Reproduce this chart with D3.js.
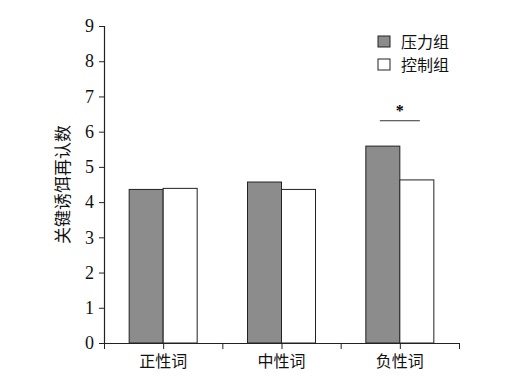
<!DOCTYPE html>
<html>
<head>
<meta charset="utf-8">
<script src="https://cdn.jsdelivr.net/npm/d3@7"></script>
<style>
  body { margin: 0; background: #fff; }
  svg { display: block; }
</style>
</head>
<body>
<svg id="chart"></svg>
<script>
// Key lure recognition counts by word type, stress vs control group
const categories = ['正性词', '中性词', '负性词'];
const seriesNames = ['压力组', '控制组'];
const stressValues = [4.36, 4.57, 5.59];
const controlValues = [4.39, 4.36, 4.63];
const yTicks = [0, 1, 2, 3, 4, 5, 6, 7, 8, 9];
const seriesColors = ['#8c8c8c', '#ffffff'];

const W = 518, H = 386;
const MARGIN = { top: 26, right: 59, bottom: 43, left: 104 };
const IW = W - MARGIN.left - MARGIN.right;
const IH = H - MARGIN.top - MARGIN.bottom;
const NUM_FONT = '"Liberation Serif", "Times New Roman", serif';
const CJK_FONT = '"Noto Sans CJK SC", sans-serif';

const svg = d3.select('#chart').attr('width', W).attr('height', H);
const g = svg.append('g').attr('transform', `translate(${MARGIN.left},${MARGIN.top})`);

const x = d3.scaleBand().domain(categories).range([0, IW]).padding(0);
const bw = x.bandwidth();
const xSub = d3.scaleBand().domain(seriesNames).range([bw / 2 - 34, bw / 2 + 34]).padding(0);
const y = d3.scaleLinear().domain([0, 9]).range([IH, 0]);

const rows = categories.map((c, i) => ({ cat: c, vals: [stressValues[i], controlValues[i]] }));

// Bars
const groups = g.selectAll('g.grp').data(rows).join('g')
  .attr('class', 'grp')
  .attr('transform', d => `translate(${x(d.cat)},0)`);

groups.selectAll('rect').data(d => d.vals.map((v, j) => ({ name: seriesNames[j], v, j })))
  .join('rect')
  .attr('x', d => xSub(d.name))
  .attr('y', d => y(d.v))
  .attr('width', xSub.bandwidth())
  .attr('height', d => IH - y(d.v))
  .attr('fill', d => seriesColors[d.j])
  .attr('stroke', '#222')
  .attr('stroke-width', 1);

// Y axis
const yAxisG = g.append('g').call(d3.axisLeft(y).tickValues(yTicks).tickSize(5).tickPadding(5));
yAxisG.select('.domain').attr('stroke', '#222').attr('stroke-width', 1.2);
yAxisG.selectAll('.tick line').attr('stroke', '#222');
yAxisG.selectAll('.tick text')
  .style('font-family', NUM_FONT).style('font-size', '18px').attr('fill', '#111');

// X axis: ticks at band edges and centres
const xTickScale = d3.scaleLinear().domain([0, categories.length * 2]).range([0, IW]);
const xAxisG = g.append('g').attr('transform', `translate(0,${IH})`)
  .call(d3.axisBottom(xTickScale).ticks(categories.length * 2).tickSize(6).tickSizeOuter(0).tickFormat(''));
xAxisG.select('.domain').attr('stroke', '#222').attr('stroke-width', 1.2);
xAxisG.selectAll('.tick line').attr('stroke', '#222');

// Category labels
g.append('g').attr('transform', `translate(0,${IH})`)
  .call(d3.axisBottom(x).tickSize(0).tickPadding(10))
  .call(a => a.select('.domain').remove())
  .selectAll('.tick text')
  .style('font-family', CJK_FONT).style('font-size', '16px').attr('fill', '#111')
  .attr('dy', '0.85em');

// Y axis title
g.append('text')
  .attr('transform', 'rotate(-90)')
  .attr('x', -y(4.5))
  .attr('y', -35)
  .attr('text-anchor', 'middle')
  .style('font-family', CJK_FONT).style('font-size', '17px').attr('fill', '#111')
  .text('关键诱饵再认数');

// Significance marker over the third category
const sig = categories[2];
const sx0 = x(sig) + xSub(seriesNames[0]) + xSub.bandwidth() / 2 - 3;
const sx1 = x(sig) + xSub(seriesNames[1]) + xSub.bandwidth() / 2 + 3;
g.append('line')
  .attr('x1', sx0).attr('x2', sx1)
  .attr('y1', y(6.31)).attr('y2', y(6.31))
  .attr('stroke', '#333').attr('stroke-width', 1);
g.append('text')
  .attr('x', (sx0 + sx1) / 2)
  .attr('y', y(6.31) - 5)
  .attr('text-anchor', 'middle')
  .style('font-family', NUM_FONT).style('font-size', '16px').style('font-weight', 'bold')
  .text('*');

// Legend
const legend = g.append('g').attr('transform', `translate(${274},${10})`);
seriesNames.forEach((name, i) => {
  const row = legend.append('g').attr('transform', `translate(0,${i * 23})`);
  row.append('rect')
    .attr('width', 12).attr('height', 11)
    .attr('fill', seriesColors[i]).attr('stroke', '#222');
  row.append('text')
    .attr('x', 23).attr('y', 6)
    .attr('dy', '0.35em')
    .style('font-family', CJK_FONT).style('font-size', '16px').attr('fill', '#111')
    .text(name);
});
</script>
</body>
</html>
